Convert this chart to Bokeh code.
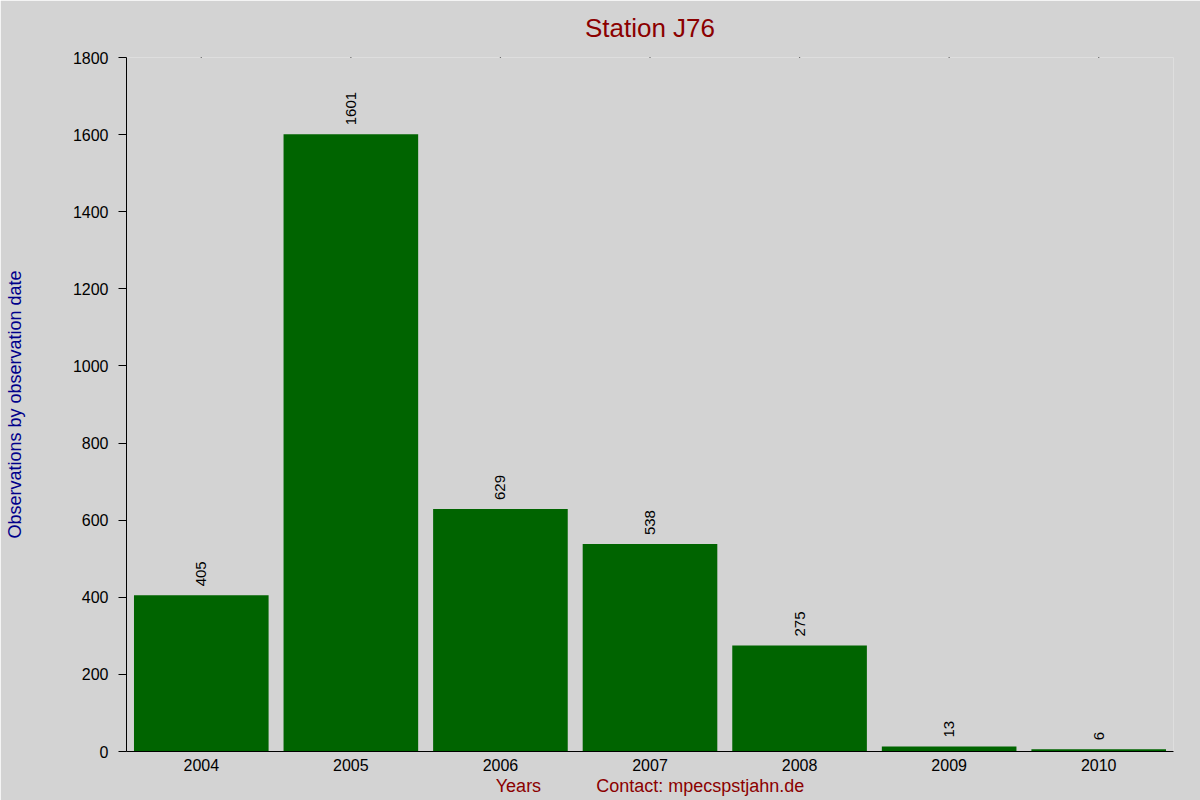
import math
from bokeh.plotting import figure
from bokeh.models import ColumnDataSource, FactorRange, FixedTicker, Range1d
from bokeh.core.properties import value
from bokeh.embed import file_html
from bokeh.resources import INLINE

years = ["2004", "2005", "2006", "2007", "2008", "2009", "2010"]
counts = [405, 1601, 629, 538, 275, 13, 6]
y_ticks = [0, 200, 400, 600, 800, 1000, 1200, 1400, 1600, 1800]
y_max = 1800
title_text = "Station J76"

FONT = "Liberation Sans"
BG = "#d3d3d3"

src = ColumnDataSource(dict(year=years, count=counts, label=[str(c) for c in counts],
                            top=[y_max] * len(years)))

p = figure(
    x_range=FactorRange(*years, range_padding=0),
    y_range=Range1d(0, y_max),
    width=1200, height=800,
    output_backend="svg", toolbar_location=None,
    min_border_left=126, min_border_right=27,
    min_border_top=56, min_border_bottom=49,
    background_fill_color=BG, border_fill_color=BG,
    outline_line_color=None,
)

p.vbar(x="year", top="count", width=0.9, source=src,
       fill_color="#006400", line_color=None)

p.text(x="year", y="count", text="label", source=src,
       angle=math.pi / 2, text_align="left", text_baseline="middle",
       y_offset=-9, text_font=value(FONT), text_font_size="15px",
       text_color="black")

# tiny tick dots along the top edge at category centers
p.scatter(x="year", y="top", source=src, marker="square", size=1.2,
          fill_color="black", line_color=None)

p.xgrid.visible = False
p.ygrid.visible = False

# title
p.title.text = title_text
p.title.align = "center"
p.title.vertical_align = "top"
p.title.text_font = FONT
p.title.text_font_size = "26px"
p.title.text_font_style = "normal"
p.title.text_color = "#8b0000"
p.title.standoff = 25

# x axis
xa = p.xaxis[0]
xa.axis_label = "Years" + "\u00a0" * 11 + "Contact: mpecspstjahn.de"
xa.axis_label_text_font = FONT
xa.axis_label_text_font_size = "18px"
xa.axis_label_text_font_style = "normal"
xa.axis_label_text_color = "#8b0000"
xa.axis_label_standoff = 2
xa.major_label_text_font = FONT
xa.major_label_text_font_size = "16px"
xa.major_label_text_color = "black"
xa.major_label_standoff = 7
xa.major_tick_out = 0
xa.major_tick_in = 0
xa.axis_line_color = "black"

# y axis
ya = p.yaxis[0]
ya.ticker = FixedTicker(ticks=y_ticks)
ya.minor_tick_out = 0
ya.minor_tick_in = 0
ya.major_tick_out = 8
ya.major_tick_in = 0
ya.major_label_standoff = 10
ya.major_label_text_font = FONT
ya.major_label_text_font_size = "16px"
ya.major_label_text_color = "black"
ya.axis_label = "Observations by observation date"
ya.axis_label_text_font = FONT
ya.axis_label_text_font_size = "18px"
ya.axis_label_text_font_style = "normal"
ya.axis_label_text_color = "#00008b"
ya.axis_label_standoff = 45
ya.axis_line_color = "black"

open("out.html", "w").write(file_html(p, INLINE))
